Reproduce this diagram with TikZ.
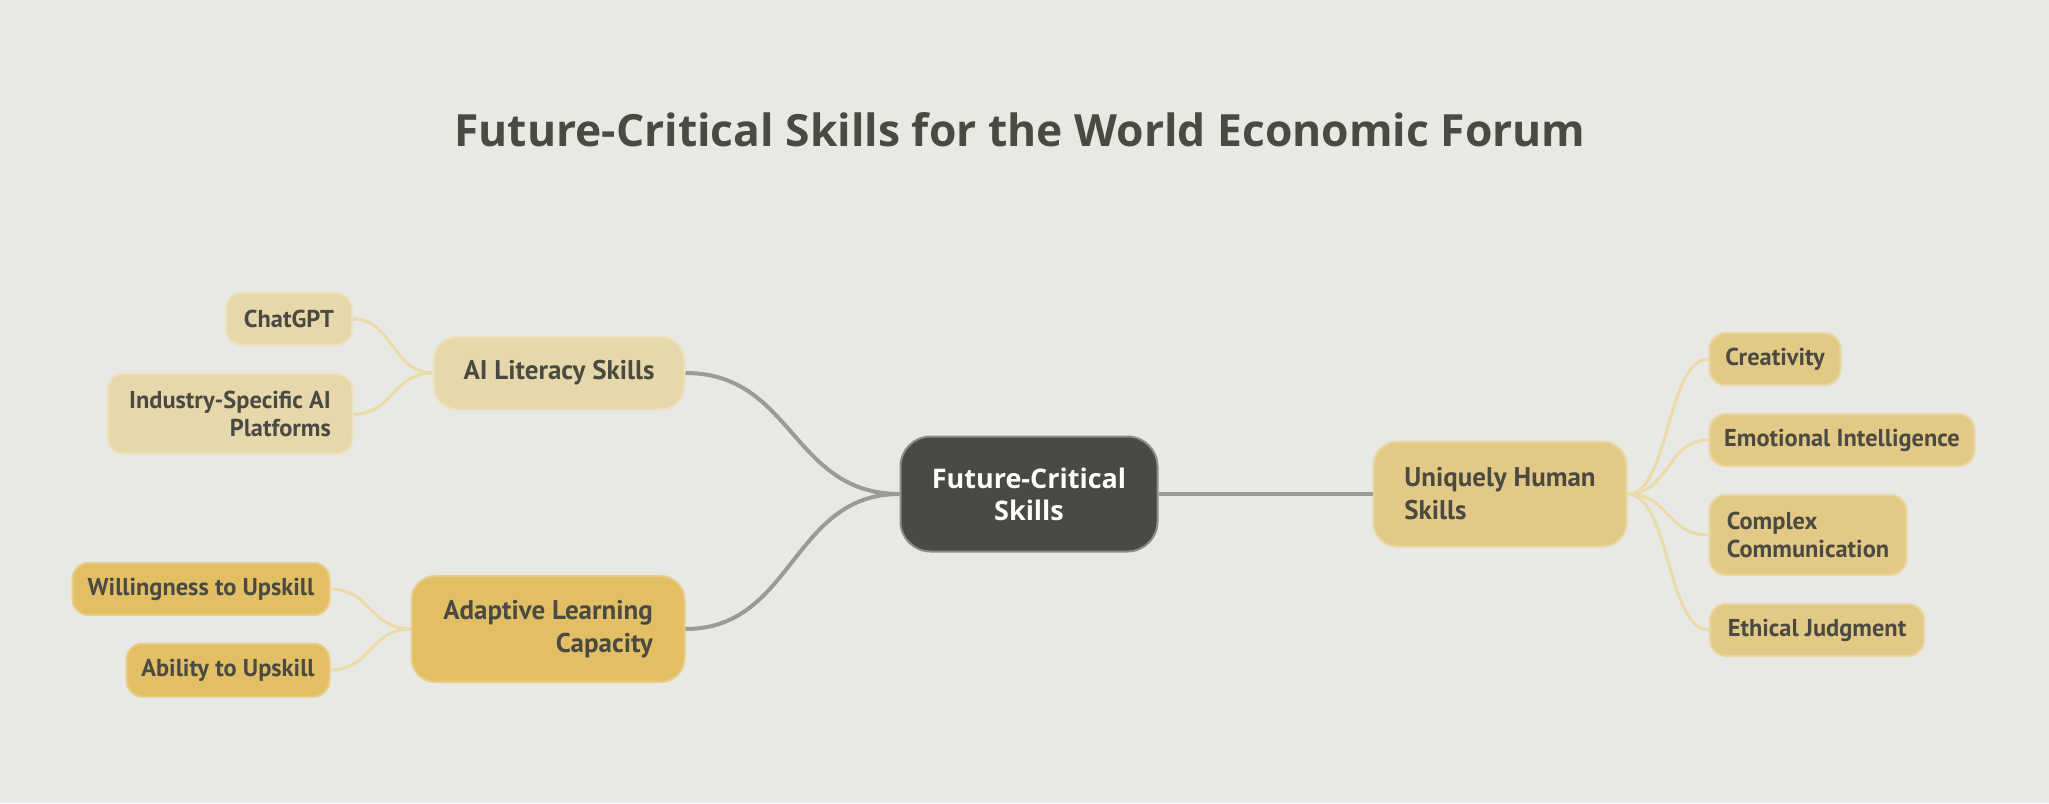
\documentclass[tikz,border=0pt]{standalone}
\usepackage{fontspec}
\setmainfont{PT Sans}
\newfontfamily\headfont{Open Sans}

\definecolor{bgcol}{HTML}{E8E8E5}
\definecolor{ink}{HTML}{4A4A42}
\definecolor{rootfill}{HTML}{494A45}
\definecolor{rootedge}{HTML}{8C8C88}
\definecolor{palefill}{HTML}{E6D8AA}
\definecolor{paleedge}{HTML}{EDE2BE}
\definecolor{goldfill}{HTML}{E2BF64}
\definecolor{goldedge}{HTML}{E9CD85}
\definecolor{midfill}{HTML}{E3C986}
\definecolor{midedge}{HTML}{EAD6A2}
\definecolor{trunkcol}{HTML}{9A9A96}
\definecolor{twigcol}{HTML}{EADBA8}

\begin{document}
\begin{tikzpicture}[x=0.5pt, y=-0.5pt,
  box/.style={rounded corners=8pt, inner sep=0pt, line width=1pt, text=ink},
  leaf/.style={box, font=\bfseries\fontsize{12.2}{14}\selectfont},
  branch/.style={box, rounded corners=12pt, font=\bfseries\fontsize{13.5}{16.5}\selectfont},
  pale/.style={fill=palefill, draw=paleedge},
  gold/.style={fill=goldfill, draw=goldedge},
  mid/.style={fill=midfill, draw=midedge},
  trunk/.style={draw=trunkcol, line width=2pt},
  twig/.style={draw=twigcol, line width=1.5pt}]

% Background and frame
\fill[bgcol] (0,0) rectangle (2049,803);
\useasboundingbox (0,0) rectangle (2049,803);

% Title
\node[text=ink, font=\headfont\bfseries\fontsize{22.2}{27}\selectfont] (title) at (1020,130) {Future-Critical Skills for the World Economic Forum};

% Central node
\node[box, rounded corners=15pt, fill=rootfill, draw=rootedge, text=white!95!bgcol, align=center,
  minimum width=128.5pt, minimum height=57.5pt, font=\headfont\bfseries\fontsize{13.5}{16}\selectfont] (root) at (1029,494) {Future-Critical\\Skills};

% Main branches
\node[branch, pale, minimum width=125.5pt, minimum height=36.5pt] (ai) at (559,373) {AI Literacy Skills};
\node[branch, gold, minimum width=136.5pt, minimum height=53pt, align=right] (adapt) at (548,629) {Adaptive Learning\\Capacity};
\node[branch, mid, minimum width=126.5pt, minimum height=52.5pt, align=left] (human) at (1500,494) {Uniquely Human\\Skills};

% Leaves on the left
\node[leaf, pale, minimum width=63pt, minimum height=26pt] (chat) at (289,319) {ChatGPT};
\node[leaf, pale, minimum width=122.5pt, minimum height=40pt, align=right] (industry) at (230,414) {Industry-Specific AI\\Platforms};
\node[leaf, gold, minimum width=128.5pt, minimum height=26pt] (willing) at (201,589) {Willingness to Upskill};
\node[leaf, gold, minimum width=101.5pt, minimum height=26.5pt] (able) at (228,670) {Ability to Upskill};

% Leaves on the right
\node[leaf, mid, minimum width=65.5pt, minimum height=26pt] (creative) at (1775,359) {Creativity};
\node[leaf, mid, minimum width=132.5pt, minimum height=26pt] (emotion) at (1842,440) {Emotional Intelligence};
\node[leaf, mid, minimum width=98.5pt, minimum height=40pt, align=left] (complex) at (1808,535) {Complex\\Communication};
\node[leaf, mid, minimum width=107pt, minimum height=26pt] (ethics) at (1817,630) {Ethical Judgment};

% Trunk connectors
\draw[trunk] (root.west) .. controls +(-108,0) and +(108,0) .. (ai.east);
\draw[trunk] (root.west) .. controls +(-108,0) and +(108,0) .. (adapt.east);
\draw[trunk] (root.east) -- (human.west);

% Twig connectors
\foreach \leafname in {chat, industry}
  \draw[twig] (ai.west) .. controls +(-40,0) and +(40,0) .. (\leafname.east);
\foreach \leafname in {willing, able}
  \draw[twig] (adapt.west) .. controls +(-40,0) and +(40,0) .. (\leafname.east);
\foreach \leafname in {creative, emotion, complex, ethics}
  \draw[twig] (human.east) .. controls +(42,0) and +(-42,0) .. (\leafname.west);
\end{tikzpicture}
\end{document}
